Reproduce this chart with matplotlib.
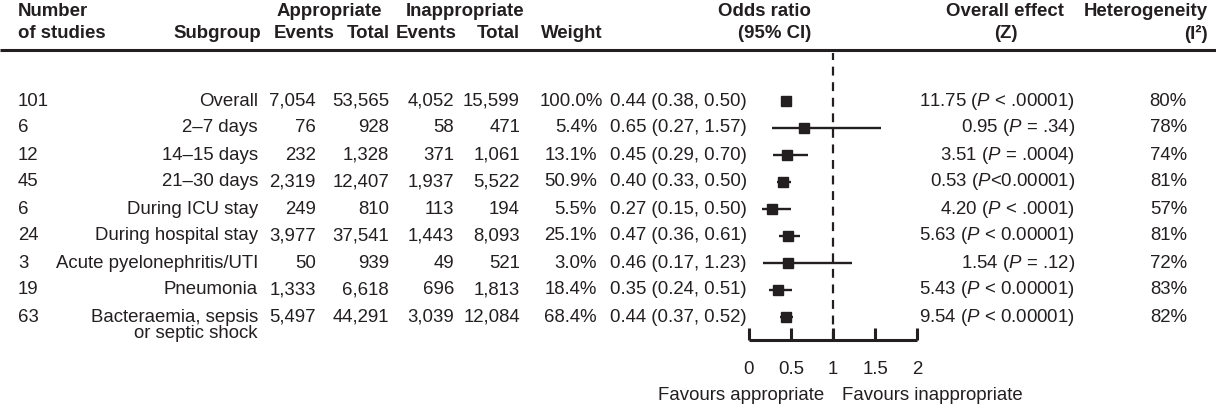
import matplotlib
matplotlib.use("Agg")
import matplotlib.pyplot as plt

# ---------------- data ----------------
n_studies = [101, 6, 12, 45, 6, 24, 3, 19, 63]
subgroups = ["Overall", "2–7 days", "14–15 days", "21–30 days", "During ICU stay",
             "During hospital stay", "Acute pyelonephritis/UTI", "Pneumonia",
             "Bacteraemia, sepsis\nor septic shock"]
app_events = [7054, 76, 232, 2319, 249, 3977, 50, 1333, 5497]
app_total = [53565, 928, 1328, 12407, 810, 37541, 939, 6618, 44291]
inapp_events = [4052, 58, 371, 1937, 113, 1443, 49, 696, 3039]
inapp_total = [15599, 471, 1061, 5522, 194, 8093, 521, 1813, 12084]
weights = [100.0, 5.4, 13.1, 50.9, 5.5, 25.1, 3.0, 18.4, 68.4]
or_est = [0.44, 0.65, 0.45, 0.40, 0.27, 0.47, 0.46, 0.35, 0.44]
ci_low = [0.38, 0.27, 0.29, 0.33, 0.15, 0.36, 0.17, 0.24, 0.37]
ci_high = [0.50, 1.57, 0.70, 0.50, 0.50, 0.61, 1.23, 0.51, 0.52]
z_values = ["11.75", "0.95", "3.51", "0.53", "4.20", "5.63", "1.54", "5.43", "9.54"]
p_values = [" < .00001", " = .34", " = .0004", "<0.00001", " < .0001",
            " < 0.00001", " = .12", " < 0.00001", " < 0.00001"]
i2_values = [80, 78, 74, 81, 57, 81, 72, 83, 82]
x_ticks = [0, 0.5, 1, 1.5, 2]
x_tick_labels = ["0", "0.5", "1", "1.5", "2"]

# ---------------- style ----------------
plt.rcParams["font.family"] = ["Liberation Sans", "DejaVu Sans"]
plt.rcParams["mathtext.fontset"] = "custom"
plt.rcParams["mathtext.rm"] = "Liberation Sans"
plt.rcParams["mathtext.it"] = "Liberation Sans:italic"
plt.rcParams["mathtext.bf"] = "Liberation Sans:bold"

W, H, DPI = 1216, 408, 100
FS = 13.4
INK = "#231f20"

fig = plt.figure(figsize=(W / DPI, H / DPI), dpi=DPI)
fig.patch.set_facecolor("white")

# table axes in pixel coordinates
tab = fig.add_axes([0, 0, 1, 1])
tab.set_xlim(0, W)
tab.set_ylim(H, 0)
tab.axis("off")

row0, dy = 101, 27
row_y = [row0 + dy * i for i in range(len(subgroups))]

# column anchors (pixels)
x_num = 18
x_sub = 258
x_aev = 316
x_atot = 389
x_iev = 454
x_itot = 520
x_w = 597
x_or = 747
x_z = 1075
x_i2 = 1187
x_het = 1208

hdr1, hdr2 = 12, 34
bold = dict(fontsize=FS, fontweight="bold", color=INK, va="center")
reg = dict(fontsize=FS, color=INK, va="center")

tab.text(x_num, hdr1, "Number", ha="left", **bold)
tab.text(x_num, hdr2, "of studies", ha="left", **bold)
tab.text(x_sub + 3, hdr2, "Subgroup", ha="right", **bold)
tab.text(329, hdr1, "Appropriate", ha="center", **bold)
tab.text(465, hdr1, "Inappropriate", ha="center", **bold)
tab.text(335, hdr2, "Events", ha="right", **bold)
tab.text(x_atot + 1, hdr2, "Total", ha="right", **bold)
tab.text(x_iev + 3, hdr2, "Events", ha="right", **bold)
tab.text(x_itot, hdr2, "Total", ha="right", **bold)
tab.text(541, hdr2, "Weight", ha="left", **bold)
tab.text(811, hdr1, "Odds ratio", ha="right", **bold)
tab.text(811, hdr2, "(95% CI)", ha="right", **bold)
tab.text(1005, hdr1, "Overall effect", ha="center", **bold)
tab.text(1006, hdr2, "(Z)", ha="center", **bold)
tab.text(x_het, hdr1, "Heterogeneity", ha="right", **bold)
tab.text(x_het, hdr2, "(I²)", ha="right", **bold)

tab.plot([0, W], [50, 50], color=INK, lw=2.2, solid_capstyle="butt")

for i, y in enumerate(row_y):
    tab.text(x_num, y, str(n_studies[i]), ha="left", **reg)
    lines = subgroups[i].split("\n")
    for k, line in enumerate(lines):
        tab.text(x_sub, y + 17 * k, line, ha="right", **reg)
    tab.text(x_aev, y, f"{app_events[i]:,}", ha="right", **reg)
    tab.text(x_atot, y, f"{app_total[i]:,}", ha="right", **reg)
    tab.text(x_iev, y, f"{inapp_events[i]:,}", ha="right", **reg)
    tab.text(x_itot, y, f"{inapp_total[i]:,}", ha="right", **reg)
    wx = x_w + (6 if weights[i] >= 100 else 0)
    tab.text(wx, y, f"{weights[i]:.1f}%", ha="right", **reg)
    tab.text(x_or, y, f"{or_est[i]:.2f} ({ci_low[i]:.2f}, {ci_high[i]:.2f})", ha="right", **reg)
    tab.text(x_z, y, f"{z_values[i]} ($P${p_values[i]})", ha="right", **reg)
    tab.text(x_i2, y, f"{i2_values[i]}%", ha="right", **reg)

# forest axes: x in odds-ratio units, y in the same pixel rows as the table
fx0, fx1 = 749, 917
fy_top, fy_bot = 53, 340
fax = fig.add_axes([fx0 / W, (H - fy_bot) / H, (fx1 - fx0) / W, (fy_bot - fy_top) / H])
fax.set_xlim(0, 2)
fax.set_ylim(fy_bot, fy_top)
fax.patch.set_alpha(0)
for s in ["top", "left", "right"]:
    fax.spines[s].set_visible(False)
fax.spines["bottom"].set_linewidth(2.2)
fax.spines["bottom"].set_color(INK)
fax.spines["bottom"].set_capstyle("butt")
fax.set_yticks([])
fax.set_xticks(x_ticks)
fax.set_xticklabels(x_tick_labels)
fax.tick_params(axis="x", direction="in", length=9, width=2.2, color=INK,
                labelsize=FS, labelcolor=INK, pad=15)

fax.axvline(1, color=INK, lw=1.6, linestyle=(0, (4, 3)), zorder=1)
fax.hlines(row_y, ci_low, ci_high, color=INK, lw=1.7, zorder=2)
fax.plot(or_est, row_y, "s", color=INK, markersize=7.3, zorder=3, clip_on=False)

tab.text(824, 395, "Favours appropriate", ha="right", **reg)
tab.text(842, 395, "Favours inappropriate", ha="left", **reg)

fig.savefig("out.png", dpi=DPI, facecolor="white")
